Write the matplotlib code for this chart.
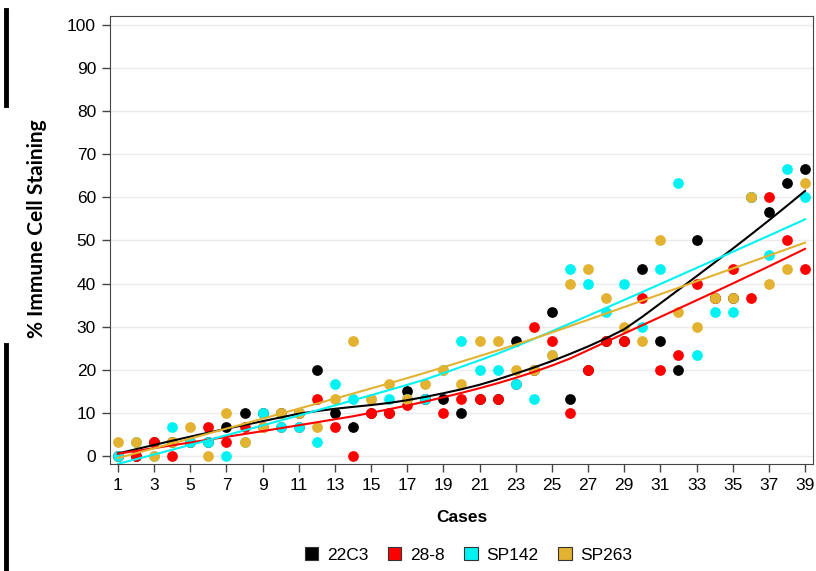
import numpy as np
import matplotlib
matplotlib.use("Agg")
import matplotlib.pyplot as plt
from matplotlib.lines import Line2D
from matplotlib.patches import Patch

# values (percent of immune cells staining, per case)
cases = np.arange(1, 40)
ab_22c3 = [0, 0, 3.3, 3.3, 3.3, 3.3, 6.7, 10, 10, 10,
           10, 20, 10, 6.7, 10, 10, 15, 13.3, 13.3, 10,
           13.3, 13.3, 26.7, 20, 33.3, 13.3, 20, 26.7, 26.7, 43.3,
           26.7, 20, 50, 36.7, 36.7, 60, 56.7, 63.3, 66.7]
ab_28_8 = [0, 0, 3.3, 0, 3.3, 6.7, 3.3, 6.7, 6.7, 6.7,
           6.7, 13.3, 6.7, 0, 10, 10, 11.7, 13.3, 10, 13.3,
           13.3, 13.3, 16.7, 30, 26.7, 10, 20, 26.7, 26.7, 36.7,
           20, 23.3, 40, 36.7, 43.3, 36.7, 60, 50, 43.3]
ab_sp142 = [0, 3.3, 0, 6.7, 3.3, 3.3, 0, 3.3, 10, 6.7,
            6.7, 3.3, 16.7, 13.3, 13.3, 13.3, 13.3, 13.3, 20, 26.7,
            20, 20, 16.7, 13.3, 23.3, 43.3, 40, 33.3, 40, 30,
            43.3, 63.3, 23.3, 33.3, 33.3, 60, 46.7, 66.7, 60]
ab_sp263 = [3.3, 3.3, 0, 3.3, 6.7, 0, 10, 3.3, 6.7, 10,
            10, 6.7, 13.3, 26.7, 13.3, 16.7, 13.3, 16.7, 20, 16.7,
            26.7, 26.7, 20, 20, 23.3, 40, 43.3, 36.7, 30, 26.7,
            50, 33.3, 30, 36.7, 36.7, 60, 40, 43.3, 63.3]
names = ["22C3", "28-8", "SP142", "SP263"]
colors = ["#000000", "#FF0000", "#00F2F2", "#E2B230"]
spans = [0.52, 0.7, 0.9, 0.9]


def lowess(x, y, frac=0.5):
    x = np.asarray(x, float); y = np.asarray(y, float)
    k = int(np.ceil(frac * len(x)))
    out = np.empty_like(y)
    for i, x0 in enumerate(x):
        d = np.abs(x - x0)
        h = np.sort(d)[k - 1] * 1.0001
        w = np.clip(1 - (d / h) ** 3, 0, 1) ** 3
        W = np.sqrt(w)
        A = np.vstack([np.ones_like(x), x - x0]).T
        beta = np.linalg.lstsq(A * W[:, None], y * W, rcond=None)[0]
        out[i] = beta[0]
    return out


fig = plt.figure(figsize=(8.16, 5.71), dpi=100)
ax = fig.add_axes([0.1348, 0.1874, 0.8615, 0.7851])

series = [ab_22c3, ab_28_8, ab_sp142, ab_sp263]
for vals, col in zip(series, colors):
    ax.scatter(cases, vals, s=60, color=col, zorder=3, linewidths=0)
for vals, col, sp in zip(series, colors, spans):
    ax.plot(cases, lowess(cases, vals, sp), color=col, lw=1.5, zorder=4)

ax.set_xlim(0.56, 39.44)
ax.set_ylim(-1.9, 102.2)
ax.set_xticks(cases[::2])
ax.set_yticks(np.arange(0, 101, 10))
ax.tick_params(labelsize=12.5, length=6, color="#444444", width=1, pad=4)
for lab in ax.get_xticklabels() + ax.get_yticklabels():
    lab.set_family("Liberation Sans")
ax.yaxis.grid(True, color="#EBEBEB", lw=1)
ax.set_axisbelow(True)
for sp in ax.spines.values():
    sp.set_color("#444444")

ax.set_xlabel("Cases", fontsize=12.5, weight="bold", family="Liberation Sans", labelpad=12)
fig.text(0.045, 0.60, "% Immune Cell Staining", rotation=90, ha="center", va="center",
         fontsize=15, weight="bold", family="Lato")

handles = [Patch(facecolor=c, edgecolor="#333333", lw=0.8) for c in colors]
fig.legend(handles, names, loc="center", bbox_to_anchor=(0.574, 0.028), ncol=4, frameon=False,
           prop=dict(family="Liberation Sans", size=12.5), handlelength=0.8, handleheight=0.8,
           handletextpad=0.5, columnspacing=1.1)

# crop marks at the left border of the source figure
fig.add_artist(Line2D([0.0074, 0.0074], [1 - 10 / 571, 1 - 105 / 571], color="black", lw=3.5))
fig.add_artist(Line2D([0.0074, 0.0074], [1 - 345 / 571, 0], color="black", lw=3.5))

fig.savefig("out.png", dpi=100)
